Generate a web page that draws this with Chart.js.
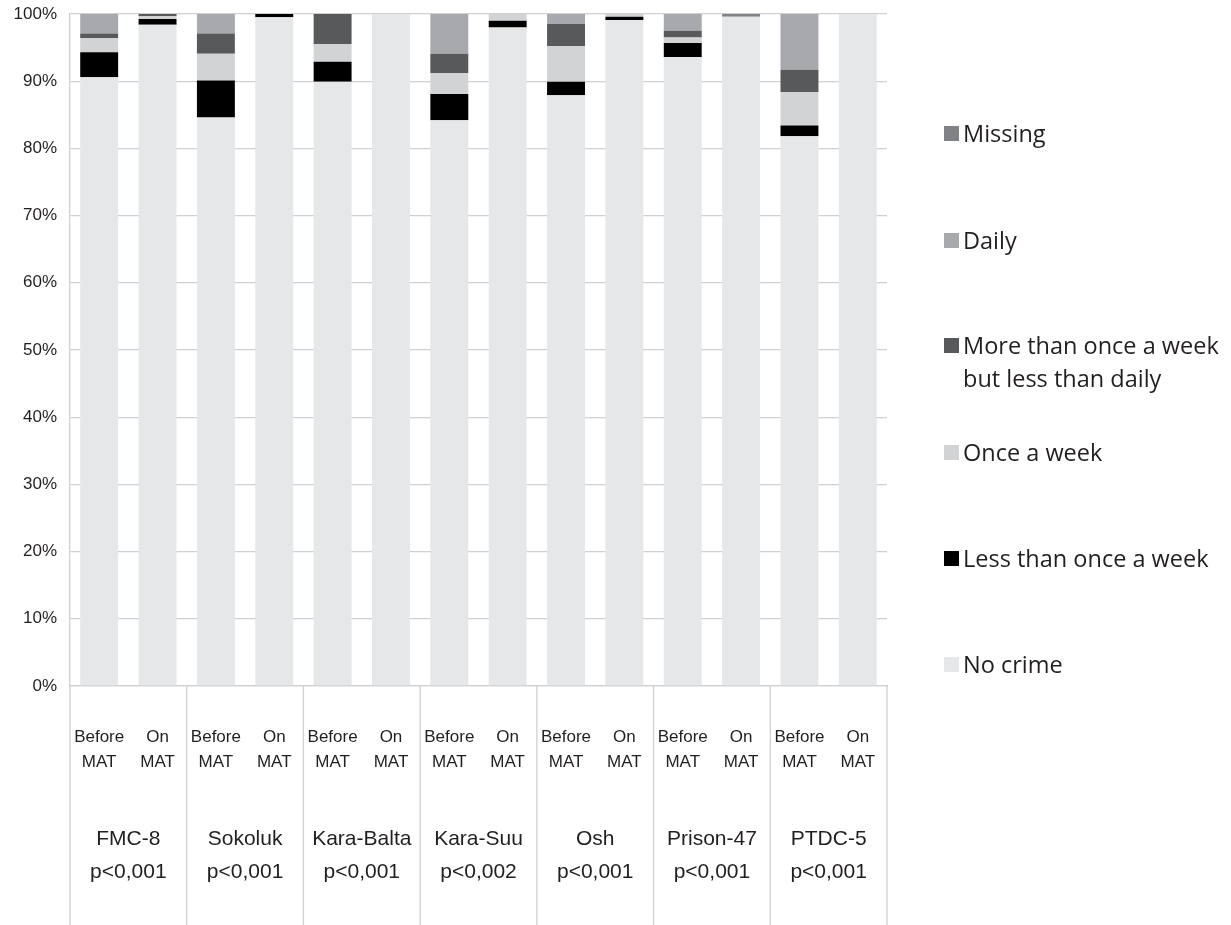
<!DOCTYPE html>
<html>
<head>
<meta charset="utf-8">
<script src="https://cdn.jsdelivr.net/npm/chart.js@4.4.1/dist/chart.umd.min.js"></script>
<style>
  html, body { margin: 0; padding: 0; background: #fff; }
  #wrap { position: relative; width: 1231px; height: 925px; }
  #chart { position: absolute; left: 0; top: 0; }
  .legend-item { position: absolute; left: 944px; font-family: "Open Sans", sans-serif; font-size: 23.5px; line-height: 33px; color: #231f20; padding-left: 19px; white-space: nowrap; }
  .legend-box { position: absolute; left: 0; top: 9px; width: 15px; height: 15px; }
</style>
</head>
<body>
<div id="wrap">
  <canvas id="chart" width="1231" height="925"></canvas>
  <div id="legend"></div>
</div>
<script>
  // data (percent of patients)
  var barLabels = ['Before MAT', 'On MAT', 'Before MAT', 'On MAT', 'Before MAT', 'On MAT', 'Before MAT', 'On MAT',
                   'Before MAT', 'On MAT', 'Before MAT', 'On MAT', 'Before MAT', 'On MAT'];
  var sites = ['FMC-8', 'Sokoluk', 'Kara-Balta', 'Kara-Suu', 'Osh', 'Prison-47', 'PTDC-5'];
  var pValues = ['p<0,001', 'p<0,001', 'p<0,001', 'p<0,002', 'p<0,001', 'p<0,001', 'p<0,001'];
  var yTicks = [0, 10, 20, 30, 40, 50, 60, 70, 80, 90, 100];

  var noCrime = [90.6, 98.4, 84.6, 99.5, 89.9, 100, 84.2, 98.0, 87.9, 99.1, 93.6, 99.6, 81.8, 100];
  var lessThanWeekly = [3.7, 0.85, 5.5, 0.5, 3.0, 0, 3.9, 1.0, 2.0, 0.5, 2.1, 0, 1.6, 0];
  var onceAWeek = [2.1, 0.4, 4.0, 0, 2.6, 0, 3.1, 1.0, 5.3, 0.4, 0.8, 0, 5.0, 0];
  var moreThanWeekly = [0.7, 0.35, 3.0, 0, 4.5, 0, 2.9, 0, 3.3, 0, 1.0, 0, 3.3, 0];
  var daily = [2.9, 0, 2.9, 0, 0, 0, 5.9, 0, 1.5, 0, 2.5, 0, 8.3, 0];
  var missing = [0, 0, 0, 0, 0, 0, 0, 0, 0, 0, 0, 0.4, 0, 0];

  var series = [
    { name: ['No crime'], data: noCrime, color: '#e6e7e8' },
    { name: ['Less than once a week'], data: lessThanWeekly, color: '#000000' },
    { name: ['Once a week'], data: onceAWeek, color: '#d1d3d4' },
    { name: ['More than once a week', 'but less than daily'], data: moreThanWeekly, color: '#58595b' },
    { name: ['Daily'], data: daily, color: '#a7a9ac' },
    { name: ['Missing'], data: missing, color: '#808285' }
  ];

  var textColor = '#231f20';
  var gridColor = '#d0d0d0';

  // category labels, group labels and separators under the plot
  var categoryPlugin = {
    id: 'categoryText',
    afterDraw: function (chart) {
      var ctx = chart.ctx;
      var x = chart.scales.x;
      var area = chart.chartArea;
      ctx.save();
      ctx.fillStyle = textColor;
      ctx.textAlign = 'center';
      ctx.textBaseline = 'middle';
      ctx.font = '17px "Liberation Sans", sans-serif';
      barLabels.forEach(function (lbl, i) {
        var px = x.getPixelForValue(i);
        var parts = lbl.split(' ');
        ctx.fillText(parts[0], px, 737);
        ctx.fillText(parts[1], px, 762);
      });
      ctx.font = '21px "Liberation Sans", sans-serif';
      sites.forEach(function (s, g) {
        var px = (x.getPixelForValue(2 * g) + x.getPixelForValue(2 * g + 1)) / 2;
        ctx.fillText(s, px, 839);
        ctx.fillText(pValues[g], px, 872);
      });
      ctx.strokeStyle = gridColor;
      ctx.lineWidth = 1.3;
      for (var g = 0; g <= sites.length; g++) {
        var bx;
        if (g === 0) bx = area.left;
        else if (g === sites.length) bx = area.right;
        else bx = (x.getPixelForValue(2 * g - 1) + x.getPixelForValue(2 * g)) / 2;
        ctx.beginPath();
        ctx.moveTo(bx, area.bottom);
        ctx.lineTo(bx, 925);
        ctx.stroke();
      }
      ctx.restore();
    }
  };

  new Chart(document.getElementById('chart'), {
    type: 'bar',
    data: {
      labels: barLabels,
      datasets: series.map(function (s) {
        return {
          label: s.name.join(' '),
          data: s.data,
          backgroundColor: s.color,
          borderWidth: 0,
          barPercentage: 0.65,
          categoryPercentage: 1.0
        };
      })
    },
    options: {
      responsive: false,
      animation: false,
      layout: { padding: { left: 0, right: 344, top: 14, bottom: 0 } },
      plugins: { legend: { display: false }, tooltip: { enabled: false } },
      scales: {
        x: {
          stacked: true,
          afterFit: function (s) { s.height = 239; },
          grid: { display: false },
          border: { display: true, color: gridColor, width: 1.3 },
          ticks: { display: false }
        },
        y: {
          stacked: true,
          min: 0,
          max: 100,
          afterFit: function (s) { s.width = 70; s.paddingTop = 0; s.paddingBottom = 0; },
          afterBuildTicks: function (s) { s.ticks = yTicks.map(function (v) { return { value: v }; }); },
          grid: { color: gridColor, lineWidth: 1.3, drawTicks: false },
          border: { display: true, color: gridColor, width: 1.3 },
          ticks: {
            padding: 13,
            color: textColor,
            font: { family: '"Liberation Sans", sans-serif', size: 17 },
            callback: function (v) { return v + '%'; }
          }
        }
      }
    },
    plugins: [categoryPlugin]
  });

  // legend on the right, top item is the top of the stack
  var legend = document.getElementById('legend');
  var legendCenters = [133, 240, 345, 452, 558, 664];
  series.slice().reverse().forEach(function (s, i) {
    var item = document.createElement('div');
    item.className = 'legend-item';
    item.style.top = (legendCenters[i] - 16.5) + 'px';
    var box = document.createElement('span');
    box.className = 'legend-box';
    box.style.background = s.color;
    item.appendChild(box);
    item.appendChild(document.createTextNode(s.name[0]));
    if (s.name[1]) {
      item.appendChild(document.createElement('br'));
      item.appendChild(document.createTextNode(s.name[1]));
    }
    legend.appendChild(item);
  });
</script>
</body>
</html>
